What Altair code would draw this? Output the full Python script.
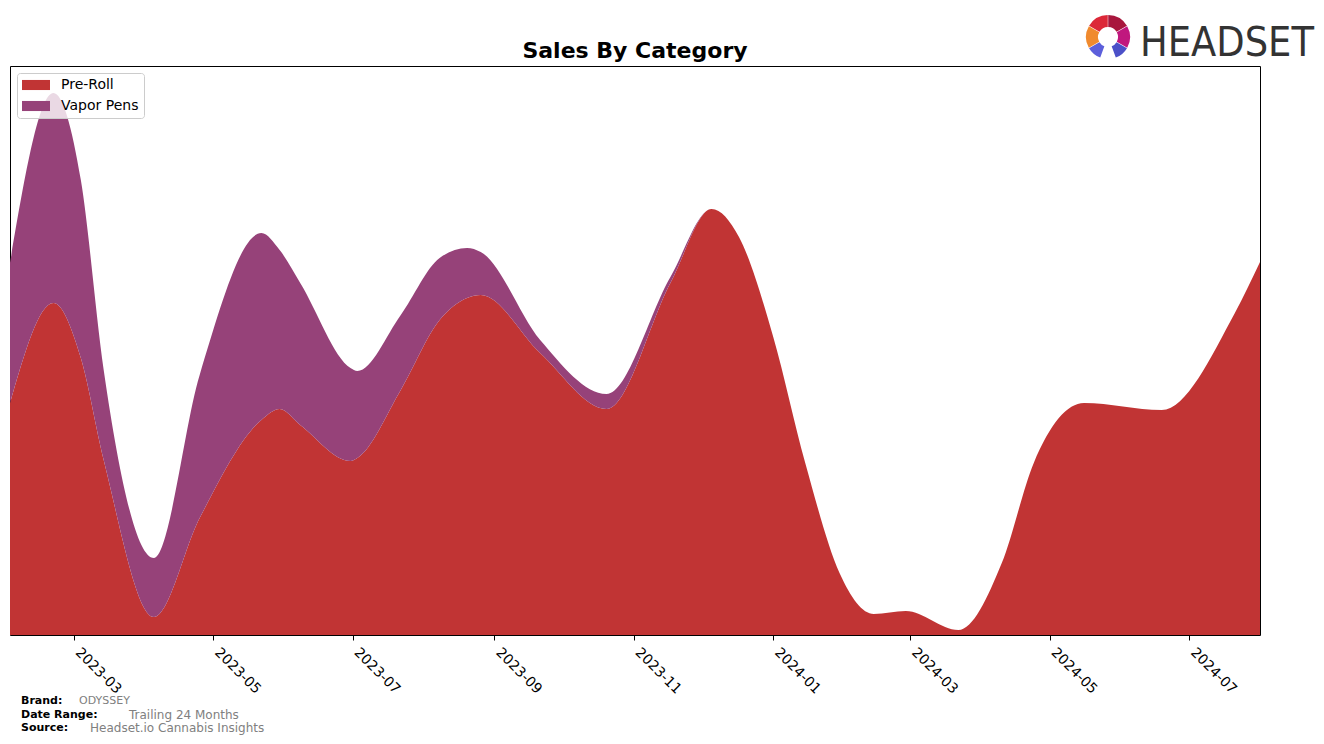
import altair as alt
import pandas as pd

# ---- data ----
dates = [
    "2023-02-01", "2023-02-20", "2023-03-04", "2023-03-14", "2023-04-05",
    "2023-04-25", "2023-05-22", "2023-05-30", "2023-06-08", "2023-06-30",
    "2023-07-03", "2023-07-22", "2023-08-08", "2023-08-20", "2023-08-26",
    "2023-09-21", "2023-10-20", "2023-11-17", "2023-12-05", "2023-12-17",
    "2024-01-01", "2024-01-15", "2024-01-30", "2024-02-14", "2024-02-28",
    "2024-03-22", "2024-04-10", "2024-04-24", "2024-05-16", "2024-06-19",
    "2024-07-21", "2024-08-01",
]
pre_roll = [
    232, 332, 277, 175, 18,
    117, 215, 226, 210, 174,
    177, 245, 315, 337, 340,
    282, 226, 352, 426, 398,
    298, 172, 62, 21, 24,
    5, 72, 172, 232, 225,
    322, 373,
]
vapor_pens = [
    140, 210, 178, 90, 59,
    143, 187, 159, 142, 93,
    87, 75, 62, 50, 43,
    13, 15, 6, 0, 0,
    0, 0, 0, 0, 0,
    0, 0, 0, 0, 0,
    0, 0,
]
categories = ["Pre-Roll", "Vapor Pens"]
cat_colors = ["#C13434", "#964279"]
tick_dates = ["2023-03", "2023-05", "2023-07", "2023-09", "2023-11",
              "2024-01", "2024-03", "2024-05", "2024-07"]

title_text = "Sales By Category"
footer_keys = ["Brand:", "Date Range:", "Source:"]
footer_vals = ["ODYSSEY", "Trailing 24 Months", "Headset.io Cannabis Insights"]
logo_text = "HEADSET"
logo_start = [0.0, 1.05, 2.09, 3.49, 4.19, 5.24]
logo_end = [1.05, 2.09, 2.79, 4.19, 5.24, 6.283]
logo_colors = ["#A8173D", "#C0187E", "#4B50C8", "#5C5FDB", "#F08A2E", "#DC2838"]

# ---- tables ----
rows = []
for d, p, v in zip(dates, pre_roll, vapor_pens):
    rows.append({"date": d, "category": categories[0], "sales": p, "ord": 0})
    rows.append({"date": d, "category": categories[1], "sales": v, "ord": 1})
df = pd.DataFrame(rows)

def ym(s):
    y, m = s.split("-")
    return alt.DateTime(year=int(y), month=int(m), date=1, utc=True)

x_scale = alt.Scale(type="utc", domain=[ym("2023-02"), ym("2024-08")], nice=False, padding=0)

legend_shape = "M-1,-0.72L3,-0.72L3,0.72L-1,0.72Z"

areas = alt.Chart(df).mark_area(interpolate="monotone", opacity=1).encode(
    x=alt.X("date:T", scale=x_scale, title=None,
            axis=alt.Axis(values=[ym(t) for t in tick_dates],
                          labelExpr="utcFormat(datum.value, '%Y-%m')",
                          labelAngle=45, labelAlign="left", labelBaseline="top",
                          labelFontSize=14, labelFont="DejaVu Sans", labelColor="black",
                          labelPadding=5, labelOffset=8, tickColor="black", tickSize=5,
                          domain=False, grid=False, labelOverlap=False, labelBound=False)),
    y=alt.Y("sales:Q", stack="zero", scale=alt.Scale(domain=[0, 569], nice=False), axis=None),
    color=alt.Color("category:N", scale=alt.Scale(domain=categories, range=cat_colors),
                    legend=alt.Legend(title=None, orient="top-left", offset=7,
                                      symbolType=legend_shape, symbolSize=196,
                                      symbolStrokeWidth=0, symbolOpacity=1,
                                      labelFontSize=14, labelFont="DejaVu Sans",
                                      labelColor="black", rowPadding=7, labelOffset=25,
                                      padding=5, strokeColor="#cccccc",
                                      fillColor="rgba(255,255,255,0.8)",
                                      cornerRadius=3)),
    order=alt.Order("ord:Q", sort="ascending"),
)

one = pd.DataFrame({"a": [0]})

def txt(text, x, y, size, color, bold=False, align="left", font="DejaVu Sans"):
    return alt.Chart(one).mark_text(
        text=text, align=align, baseline="middle", fontSize=size,
        font=font, fontWeight="bold" if bold else "normal", color=color,
    ).encode(x=alt.value(x), y=alt.value(y))

title = txt(title_text, 625, -15, 22, "black", True, align="center")

footer = [
    txt(footer_keys[0], 11, 635, 11, "black", True),
    txt(footer_vals[0], 69, 635, 11, "#808080"),
    txt(footer_keys[1], 11, 649, 11, "black", True),
    txt(footer_vals[1], 119, 649, 12, "#808080"),
    txt(footer_keys[2], 11, 662, 11, "black", True),
    txt(footer_vals[2], 80, 662, 12, "#808080"),
]

logo_word = alt.Chart(one).mark_text(
    text=logo_text, align="left", baseline="alphabetic", fontSize=41,
    font="Liberation Sans Narrow, DejaVu Sans Condensed, Open Sans", color="#333333",
).encode(x=alt.value(1130), y=alt.value(-10))

logo_df = pd.DataFrame({
    "t1": logo_start,
    "t2": logo_end,
    "c": logo_colors,
})
logo_ring = alt.Chart(logo_df).mark_arc(padAngle=0.02).encode(
    theta=alt.Theta("t1:Q", scale=None),
    theta2="t2:Q",
    radius=alt.value(22),
    radius2=alt.value(10),
    x=alt.value(1098),
    y=alt.value(-29),
    fill=alt.Fill("c:N", scale=None, legend=None),
)

chart = alt.layer(areas, title, *footer, logo_word, logo_ring).properties(
    width=1250, height=569,
    background="white",
    autosize=alt.AutoSizeParams(type="none"),
    padding={"left": 10, "top": 66, "right": 64, "bottom": 109},
).configure_view(stroke="black", strokeWidth=1)

chart.save("out.html", embed_options={"renderer": "svg", "actions": False})
